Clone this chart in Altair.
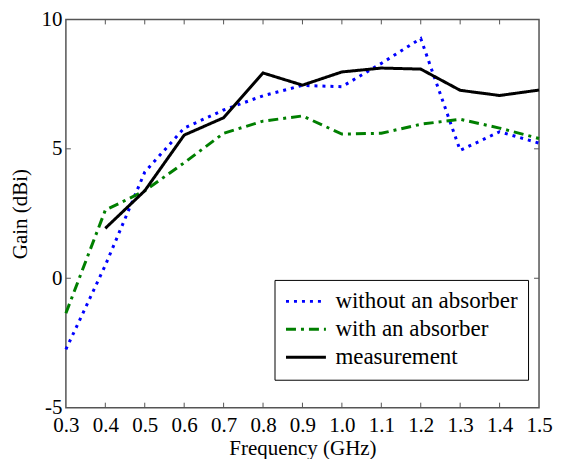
import altair as alt
import pandas as pd

freq = [0.3, 0.4, 0.5, 0.6, 0.7, 0.8, 0.9, 1.0, 1.1, 1.2, 1.3, 1.4, 1.5]
without_absorber = [-2.75, 0.5, 4.1, 5.8, 6.5, 7.05, 7.45, 7.4, 8.3, 9.26, 4.94, 5.66, 5.22]
with_absorber = [-1.35, 2.63, 3.38, 4.46, 5.6, 6.07, 6.27, 5.57, 5.6, 5.95, 6.14, 5.8, 5.4]
meas_freq = [0.4, 0.5, 0.6, 0.7, 0.8, 0.9, 1.0, 1.1, 1.2, 1.3, 1.4, 1.5]
measurement = [1.93, 3.38, 5.53, 6.2, 7.93, 7.46, 7.97, 8.12, 8.08, 7.26, 7.06, 7.27]

series_names = ["without an absorber", "with an absorber", "measurement"]
series_colors = ["#0000ff", "#007f00", "#000000"]
series_dash = [[3, 5], [10, 5, 3, 5], [1, 0]]

x_ticks = [0.3, 0.4, 0.5, 0.6, 0.7, 0.8, 0.9, 1.0, 1.1, 1.2, 1.3, 1.4, 1.5]
y_ticks = [-5, 0, 5, 10]

rows = []
for f, v in zip(freq, without_absorber):
    rows.append({"freq": f, "gain": v, "series": series_names[0]})
for f, v in zip(freq, with_absorber):
    rows.append({"freq": f, "gain": v, "series": series_names[1]})
for f, v in zip(meas_freq, measurement):
    rows.append({"freq": f, "gain": v, "series": series_names[2]})
df = pd.DataFrame(rows)

W, H = 474, 389
FONT = "Liberation Serif"
FS = 21

xscale = alt.Scale(domain=[0.3, 1.5], nice=False, zero=False)
yscale = alt.Scale(domain=[-5, 10], nice=False, zero=False)

xaxis = alt.Axis(values=x_ticks, format=".1f", title="Frequency (GHz)",
                 labelPadding=7, titlePadding=2, labelFlush=False)
yaxis = alt.Axis(values=y_ticks, labelExpr="datum.value + ''", title="Gain (dBi)",
                 labelPadding=4, titlePadding=10, labelFlush=False)

legend = alt.Legend(title=None, orient="none", legendX=209, legendY=261,
                    strokeColor="black", fillColor="white", padding=10,
                    symbolType="M-1,0H3", symbolSize=400, symbolStrokeWidth=3,
                    labelFont=FONT, labelFontSize=23, labelOffset=28,
                    labelColor="black", rowPadding=4, labelLimit=400)

lines = alt.Chart(df).mark_line(strokeWidth=3).encode(
    x=alt.X("freq:Q", scale=xscale, axis=xaxis, title="Frequency (GHz)"),
    y=alt.Y("gain:Q", scale=yscale, axis=yaxis, title="Gain (dBi)"),
    color=alt.Color("series:N", scale=alt.Scale(domain=series_names, range=series_colors),
                    legend=legend),
    strokeDash=alt.StrokeDash("series:N", scale=alt.Scale(domain=series_names, range=series_dash),
                              legend=legend),
)

xt = pd.DataFrame({"t": x_ticks[1:-1]})
yt = pd.DataFrame({"t": y_ticks[1:-1]})
tick_color = "#555555"

bottom = alt.Chart(xt).mark_rule(color=tick_color).encode(
    x=alt.X("t:Q", scale=xscale, axis=xaxis, title="Frequency (GHz)"),
    y=alt.value(H), y2=alt.value(H - 5))
top = alt.Chart(xt).mark_rule(color=tick_color).encode(
    x=alt.X("t:Q", scale=xscale, axis=xaxis, title="Frequency (GHz)"),
    y=alt.value(0), y2=alt.value(5))
left = alt.Chart(yt).mark_rule(color=tick_color).encode(
    y=alt.Y("t:Q", scale=yscale, axis=yaxis, title="Gain (dBi)"),
    x=alt.value(0), x2=alt.value(5))
right = alt.Chart(yt).mark_rule(color=tick_color).encode(
    y=alt.Y("t:Q", scale=yscale, axis=yaxis, title="Gain (dBi)"),
    x=alt.value(W), x2=alt.value(W - 5))

chart = alt.layer(lines, bottom, top, left, right).properties(
    width=W, height=H, background="white",
    padding={"left": 2, "top": 0, "right": 0, "bottom": 0}
).configure_view(
    stroke=tick_color, strokeWidth=1.5
).configure_axis(
    tickSize=0, grid=False, domain=False, labelFont=FONT, titleFont=FONT,
    labelFontSize=FS, titleFontSize=FS, labelColor="black", titleColor="black",
    titleFontWeight="normal", labelOverlap=False
).configure_legend(
    labelFont=FONT, labelFontSize=23, labelColor="black"
)

chart.save("out.html", embed_options={"renderer": "svg", "actions": False})
